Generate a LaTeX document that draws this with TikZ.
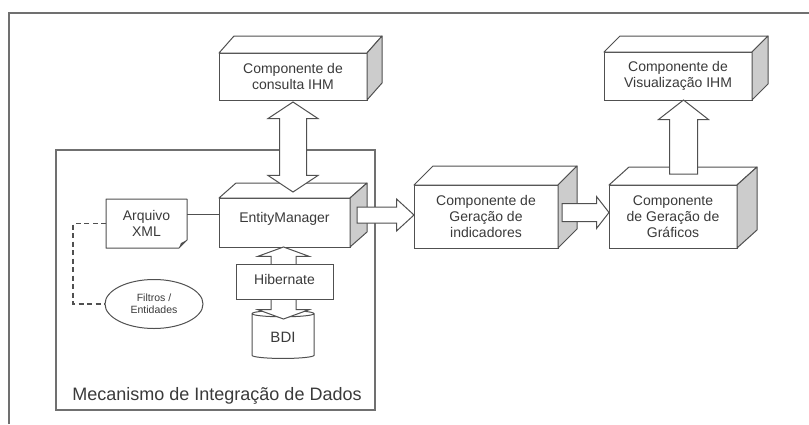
\documentclass[tikz,border=0pt]{standalone}
\usepackage{fontspec}
\setmainfont{Liberation Sans}
\usetikzlibrary{shapes,shapes.arrows,shapes.geometric}
\definecolor{linegray}{HTML}{505050}
\definecolor{sidegray}{HTML}{CCCCCC}
\definecolor{textgray}{HTML}{3A3A3A}
\definecolor{framegray}{HTML}{707070}
\tikzstyle{cube} = [draw=linegray, fill=white, line width=1pt, outer sep=0pt, inner sep=0pt, align=center, text=textgray, font=\fontsize{14}{16}\selectfont]
\tikzstyle{face} = [draw=linegray, fill=white, line width=1pt, line join=round]
\tikzstyle{sideface} = [face, fill=sidegray]
\tikzstyle{plain} = [draw=linegray, line width=1pt]
\tikzstyle{flowarrow} = [single arrow, draw=linegray, fill=white, line width=1pt, inner xsep=0pt, outer sep=0pt]
\tikzstyle{bothways} = [double arrow, draw=linegray, fill=white, line width=1pt, inner xsep=0pt, outer sep=0pt]

\begin{document}
\begin{tikzpicture}[x=1pt, y=-1pt]
    \useasboundingbox (0,0) rectangle (809,424);
    % outer frame, only top and left edges are in the picture
    \draw[framegray, line width=2pt] (9,424) -- (9,13) -- (809,13);

    % the integration mechanism
    \node[draw=framegray, line width=1.4pt, minimum width=319, minimum height=260, outer sep=0pt] (mecanismo) at (215.5,280) {};
    \node[anchor=base, text=textgray, font=\fontsize{18}{20}\selectfont] (mectitle) at (217,400) {Mecanismo de Integração de Dados};

    % the components
    \node[cube, minimum width=148, minimum height=47] (consulta) at (293,76.5) {Componente de\\consulta IHM};
    \node[cube, minimum width=131, minimum height=49] (entity) at (284.5,222.5) {\raisebox{10pt}{EntityManager}};
    \node[cube, minimum width=144, minimum height=63] (indic) at (486,216.5) {Componente de\\Geração de\\indicadores};
    \node[cube, minimum width=128, minimum height=63] (graf) at (673,216.5) {Componente\\de Geração de\\Gráficos};
    \node[cube, minimum width=148, minimum height=48] (visual) at (678,76) {Componente de\\Visualização IHM};

    % top and side faces of the boxes
    \foreach \name/\dx/\dy in {consulta/15/17, entity/17/15, indic/19/19, graf/20/18, visual/16/16} {
        \draw[face] (\name.north west) -- ++(\dx,-\dy) -- ([shift={(\dx,-\dy)}]\name.north east) -- (\name.north east) -- cycle;
        \draw[sideface] (\name.north east) -- ++(\dx,-\dy) -- ([shift={(\dx,-\dy)}]\name.south east) -- (\name.south east) -- cycle;
    }

    % XML file with folded corner
    \node[inner sep=0pt, outer sep=0pt, minimum width=81, minimum height=49, align=center, text=textgray, font=\fontsize{14}{16}\selectfont] (xml) at (146.5,223.5) {Arquivo\\XML};
    \draw[plain, line join=round] (xml.north west) -- (xml.north east) -- ([shift={(0,-8)}]xml.south east) -- ([shift={(-8,0)}]xml.south east) -- (xml.south west) -- cycle;
    \fill[linegray] ([shift={(0,-8)}]xml.south east) -- ([shift={(-8,0)}]xml.south east) -- ([shift={(-6,-5)}]xml.south east) -- cycle;

    \node[ellipse, draw=linegray, line width=1pt, fill=white, inner sep=0pt, minimum width=98, minimum height=49, align=center, text=textgray, font=\fontsize{10.5}{12}\selectfont] (filtros) at (154,304) {Filtros /\\Entidades};

    \node[cylinder, shape border rotate=90, aspect=0.2, draw=linegray, line width=1pt, fill=white, minimum width=62, minimum height=48, text=textgray, font=\fontsize{15}{17}\selectfont] (bdi) at (283,337) {BDI};

    % connections
    \draw[plain] ([shift={(0,-9)}]xml.east) -- ([shift={(0,-9)}]xml.east -| entity.west);
    \draw[plain, line width=1.2pt, dash pattern=on 5pt off 3.5pt] (xml.west) -- ++(-33,0) |- (filtros.west);

    % Hibernate between EntityManager and BDI
    \node[bothways, rotate=90, minimum height=72, inner ysep=12pt, double arrow head extend=13pt, double arrow tip angle=140] (hibarrow) at (283.5,283) {};
    \node[cube, minimum width=97, minimum height=35] (hibernate) at (284.5,281.5) {\raisebox{5pt}{Hibernate}};

    % block arrows
    \node[bothways, rotate=90, minimum height=90, inner ysep=13pt, double arrow head extend=11.5pt, double arrow tip angle=113] (consultaarrow) at ([shift={(0,47)}]consulta.south) {};
    \node[flowarrow, anchor=tip, minimum height=57, inner ysep=7.5pt, single arrow head extend=8pt, single arrow tip angle=85] (entityarrow) at ([shift={(0,-1.5)}]indic.west) {};
    \node[flowarrow, anchor=tip, minimum height=47, inner ysep=8.5pt, single arrow head extend=7pt, single arrow tip angle=104] (indicarrow) at ([shift={(0,-4)}]graf.west) {};
    \node[flowarrow, rotate=90, anchor=tip, minimum height=74, inner ysep=13.5pt, single arrow head extend=11pt, single arrow tip angle=104] (grafarrow) at ([shift={(5.5,0)}]visual.south) {};
\end{tikzpicture}
\end{document}
